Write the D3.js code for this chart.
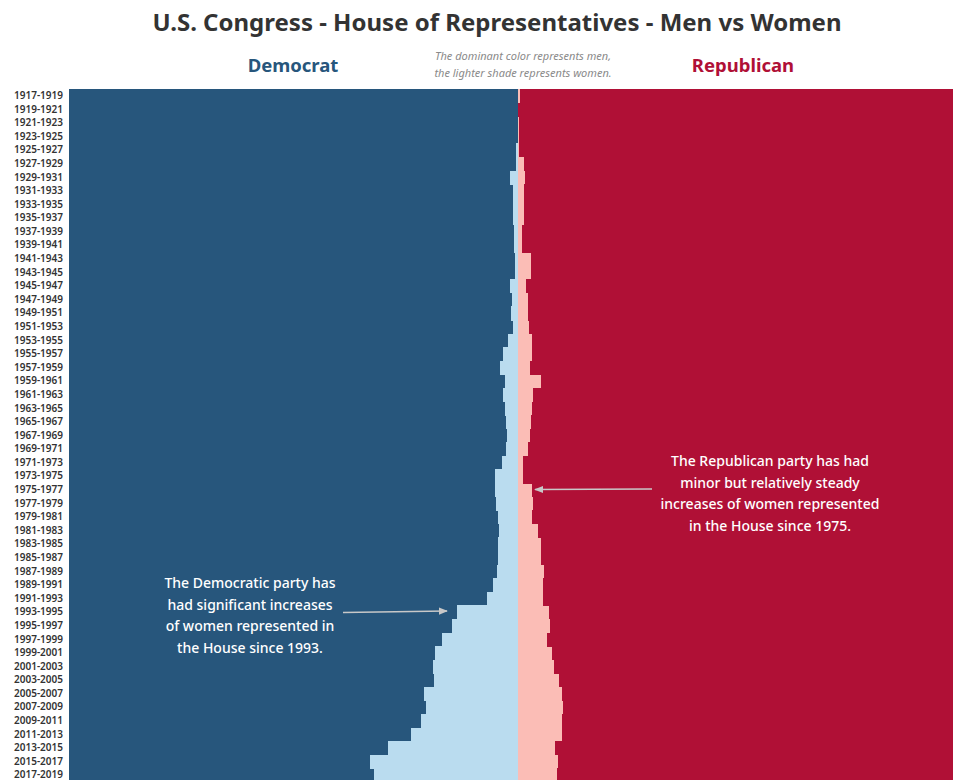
<!DOCTYPE html>
<html lang="en">
<head>
<meta charset="utf-8">
<title>House of Representatives - Men vs Women</title>
<script src="https://cdn.jsdelivr.net/npm/d3@7"></script>
<style>
  body{margin:0;background:#fff;font-family:"Noto Sans",sans-serif;}
</style>
</head>
<body>
<div id="chart"></div>
<script>
// congress terms, top to bottom
var terms = ["1917-1919","1919-1921","1921-1923","1923-1925","1925-1927","1927-1929","1929-1931","1931-1933",
  "1933-1935","1935-1937","1937-1939","1939-1941","1941-1943","1943-1945","1945-1947","1947-1949",
  "1949-1951","1951-1953","1953-1955","1955-1957","1957-1959","1959-1961","1961-1963","1963-1965",
  "1965-1967","1967-1969","1969-1971","1971-1973","1973-1975","1975-1977","1977-1979","1979-1981",
  "1981-1983","1983-1985","1985-1987","1987-1989","1989-1991","1991-1993","1993-1995","1995-1997",
  "1997-1999","1999-2001","2001-2003","2003-2005","2005-2007","2007-2009","2009-2011","2011-2013",
  "2013-2015","2015-2017","2017-2019"]

// share of women (% of the party's seats)
var demWomen = [0,0,0,0,0.4,0.4,1.8,1.1,1.0,1.0,0.8,0.8,0.6,0.6,1.7,1.3,
  1.6,1.1,2.2,3.3,3.9,2.8,3.3,2.8,2.6,2.4,2.6,3.6,5.1,5.1,4.8,4.5,
  4.1,4.3,4.5,4.7,5.6,6.9,13.5,14.7,16.9,18.4,18.8,18.6,20.9,20.4,21.5,23.8,
  29.0,32.9,32.0]
var repWomen = [0.5,0,0.3,0.3,0.3,1.3,1.6,1.3,1.3,1.5,1.0,1.0,3.0,3.0,1.8,2.2,
  2.2,2.6,3.1,3.1,2.7,5.1,3.5,3.1,3.0,2.7,2.2,1.1,1.1,3.1,3.3,3.1,
  4.6,5.1,5.3,5.9,5.7,5.6,7.0,7.2,6.6,7.6,8.1,9.2,9.8,10.0,9.8,9.9,
  8.3,8.9,8.7]

var colors = {demMen:"#27567c", demWomen:"#badcef", repMen:"#b01036", repWomen:"#fbbdb6"}

var w = 953, h = 780
var chartTop = 89, chartBottom = 782
var chartLeft = 69, center = 517.7
var half = center - chartLeft

var svg = d3.select("#chart").append("svg")
    .attr("width", w).attr("height", h)
    .style("display","block")

// scales
var yScale = d3.scaleBand().domain(terms).range([chartTop, chartBottom]).padding(0)
var xDem = d3.scaleLinear().domain([0,100]).range([center, chartLeft])
var xRep = d3.scaleLinear().domain([0,100]).range([center, center + half])

var rows = terms.map(function(t,i){ return {term:t, dem:demWomen[i], rep:repWomen[i]} })

var g = svg.append("g").attr("shape-rendering","crispEdges")

g.selectAll(".dm").data(rows).enter().append("rect")
    .attr("x", xDem(100))
    .attr("y", function(d){ return yScale(d.term) })
    .attr("width", function(d){ return xDem(d.dem) - xDem(100) })
    .attr("height", yScale.bandwidth() + 0.5)
    .attr("fill", colors.demMen)
g.selectAll(".dw").data(rows).enter().append("rect")
    .attr("x", function(d){ return xDem(d.dem) })
    .attr("y", function(d){ return yScale(d.term) })
    .attr("width", function(d){ return center - xDem(d.dem) })
    .attr("height", yScale.bandwidth() + 0.5)
    .attr("fill", colors.demWomen)
g.selectAll(".rw").data(rows).enter().append("rect")
    .attr("x", center)
    .attr("y", function(d){ return yScale(d.term) })
    .attr("width", function(d){ return xRep(d.rep) - center })
    .attr("height", yScale.bandwidth() + 0.5)
    .attr("fill", colors.repWomen)
g.selectAll(".rm").data(rows).enter().append("rect")
    .attr("x", function(d){ return xRep(d.rep) })
    .attr("y", function(d){ return yScale(d.term) })
    .attr("width", function(d){ return xRep(100) - xRep(d.rep) })
    .attr("height", yScale.bandwidth() + 0.5)
    .attr("fill", colors.repMen)

// term labels
var yAxis = d3.axisLeft(yScale).tickSize(0).tickPadding(6)
var ax = svg.append("g").attr("transform","translate(" + chartLeft + ",0)").call(yAxis)
ax.select(".domain").remove()
ax.selectAll("text").attr("font-size",10).attr("fill","#333")
    .attr("font-family","'Noto Sans',sans-serif").attr("font-weight","600")

// title + headers
svg.append("text").attr("x", 497).attr("y", 31)
    .attr("text-anchor","middle").attr("font-size",24).attr("font-weight","bold")
    .attr("fill","#333").text("U.S. Congress - House of Representatives - Men vs Women")

svg.append("text").attr("x", 293).attr("y", 72)
    .attr("text-anchor","middle").attr("font-size",18.5).attr("font-weight","bold")
    .attr("fill",colors.demMen).text("Democrat")
svg.append("text").attr("x", 743).attr("y", 72)
    .attr("text-anchor","middle").attr("font-size",18.5).attr("font-weight","bold")
    .attr("fill",colors.repMen).text("Republican")

var note = svg.append("text").attr("text-anchor","middle").attr("font-size",11)
    .attr("font-style","italic").attr("fill","#8a8a8a")
note.append("tspan").attr("x",523).attr("y",60).text("The dominant color represents men,")
note.append("tspan").attr("x",523).attr("y",77).text("the lighter shade represents women.")

// annotations
function annotate(lines, cx, y0, lh){
  var t = svg.append("text").attr("text-anchor","middle").attr("font-size",14)
      .attr("font-weight","500").attr("fill","#fff")
  lines.forEach(function(l,i){
    t.append("tspan").attr("x",cx).attr("y",y0 + i*lh).text(l)
  })
}
annotate(["The Republican party has had","minor but relatively steady",
  "increases of women represented","in the House since 1975."], 770, 466, 21.5)
annotate(["The Democratic party has","had significant increases",
  "of women represented in","the House since 1993."], 250, 588, 21.5)

svg.append("defs").append("marker").attr("id","arr")
    .attr("viewBox","0 0 10 10").attr("refX",9).attr("refY",5)
    .attr("markerWidth",7).attr("markerHeight",7).attr("orient","auto")
  .append("path").attr("d","M0,1L10,5L0,9Z").attr("fill","#c8c8c8")

svg.append("line").attr("x1",652).attr("y1",489).attr("x2",535).attr("y2",489.5)
    .attr("stroke","#c8c8c8").attr("stroke-width",1.3).attr("marker-end","url(#arr)")
svg.append("line").attr("x1",343).attr("y1",612.5).attr("x2",447).attr("y2",611)
    .attr("stroke","#c8c8c8").attr("stroke-width",1.3).attr("marker-end","url(#arr)")
</script>
</body>
</html>
